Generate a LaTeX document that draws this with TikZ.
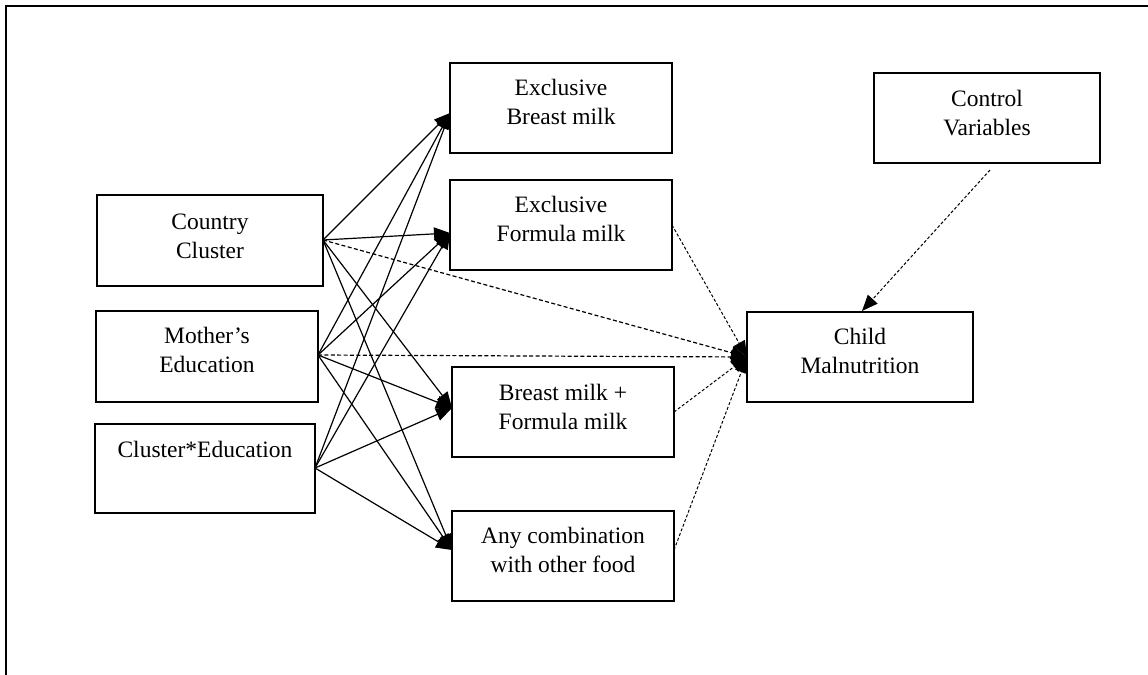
\documentclass[tikz,border=0pt]{standalone}
\usepackage{fontspec}
\setmainfont{Liberation Serif}
\usetikzlibrary{arrows.meta}
\newcommand{\mylines}[1]{\begin{tabular}[t]{@{}c@{}}#1\end{tabular}}
\begin{document}
\begin{tikzpicture}[x=0.5pt,y=-0.5pt,
  box/.style={draw, line width=0.6pt, rectangle, inner sep=0pt, minimum width=111pt, minimum height=45pt},
  lbl/.style={anchor=base, inner sep=0pt, font=\fontsize{11.75}{14.5}\selectfont},
  solidarr/.style={line width=0.6pt, -{Triangle[length=8pt,width=6.5pt]}},
  longdash/.style={line width=0.6pt, dash pattern=on 2pt off 1.2pt, -{Triangle[length=8pt,width=6.5pt]}},
  shortdash/.style={line width=0.5pt, dash pattern=on 1.5pt off 1pt, -{Triangle[length=8pt,width=6.5pt]}},
  frame/.style={line width=1pt}
]
\useasboundingbox (0,0) rectangle (1148,675);
% frame (top and left edges visible)
\coordinate (ftr) at (1148,6);
\coordinate (ftl) at (6,6);
\coordinate (fbl) at (6,675);
\draw[frame] (ftr) -- (ftl) -- (fbl);

% left boxes
\node[box, minimum width=113pt, minimum height=45.5pt] (cc) at (210,240.5) {};
\node[lbl] (cct) at (210,229) {\mylines{Country\\Cluster}};
\node[box, minimum width=111pt, minimum height=45.5pt] (me) at (207,356.5) {};
\node[lbl] (met) at (207,343) {\mylines{Mother’s\\Education}};
\node[box, minimum width=110pt, minimum height=44.5pt] (ce) at (205,468.5) {};
\node[lbl] (cet) at (205,457) {Cluster*Education};

% middle boxes
\node[box] (eb) at (561,108) {};
\node[lbl] (ebt) at (561,95) {\mylines{Exclusive\\Breast milk}};
\node[box] (ef) at (561,225) {};
\node[lbl] (eft) at (561,212) {\mylines{Exclusive\\Formula milk}};
\node[box] (bf) at (563,412) {};
\node[lbl] (bft) at (563,400) {\mylines{Breast milk +\\Formula milk}};
\node[box] (ac) at (563,556) {};
\node[lbl] (act) at (563,543) {\mylines{Any combination\\with other food}};

% right boxes
\node[box, minimum width=113pt] (cm) at (860,357) {};
\node[lbl] (cmt) at (860,344) {\mylines{Child\\Malnutrition}};
\node[box, minimum width=113pt] (cv) at (987,118) {};
\node[lbl] (cvt) at (987,106) {\mylines{Control\\Variables}};

% arrow end points
\coordinate (ebin) at (450,113);
\coordinate (efin) at (450,233);
\coordinate (bfin) at (452,408);
\coordinate (acin) at (452,550);
\coordinate (cmin) at (747,357);
\coordinate (ccout) at (323,240);
\coordinate (meout) at (318,355);
\coordinate (ceout) at (315,468);
\coordinate (efout) at (672,225);
\coordinate (bfout) at (674,412);
\coordinate (acout) at (674,550);
\coordinate (cvout) at (990,170);
\coordinate (cmtop) at (862,311);

% solid arrows
\foreach \s in {ccout,meout,ceout}{
  \foreach \t in {ebin,efin,bfin,acin}{
    \draw[solidarr] (\s) -- (\t);
  }
}

% dashed arrows to Child Malnutrition
\draw[longdash] (ccout) -- (cmin);
\draw[longdash] (meout) -- (cmin);
\draw[shortdash] (efout) -- (cmin);
\draw[shortdash] (bfout) -- (cmin);
\draw[shortdash] (acout) -- (cmin);
\draw[shortdash] (cvout) -- (cmtop);
\end{tikzpicture}
\end{document}
